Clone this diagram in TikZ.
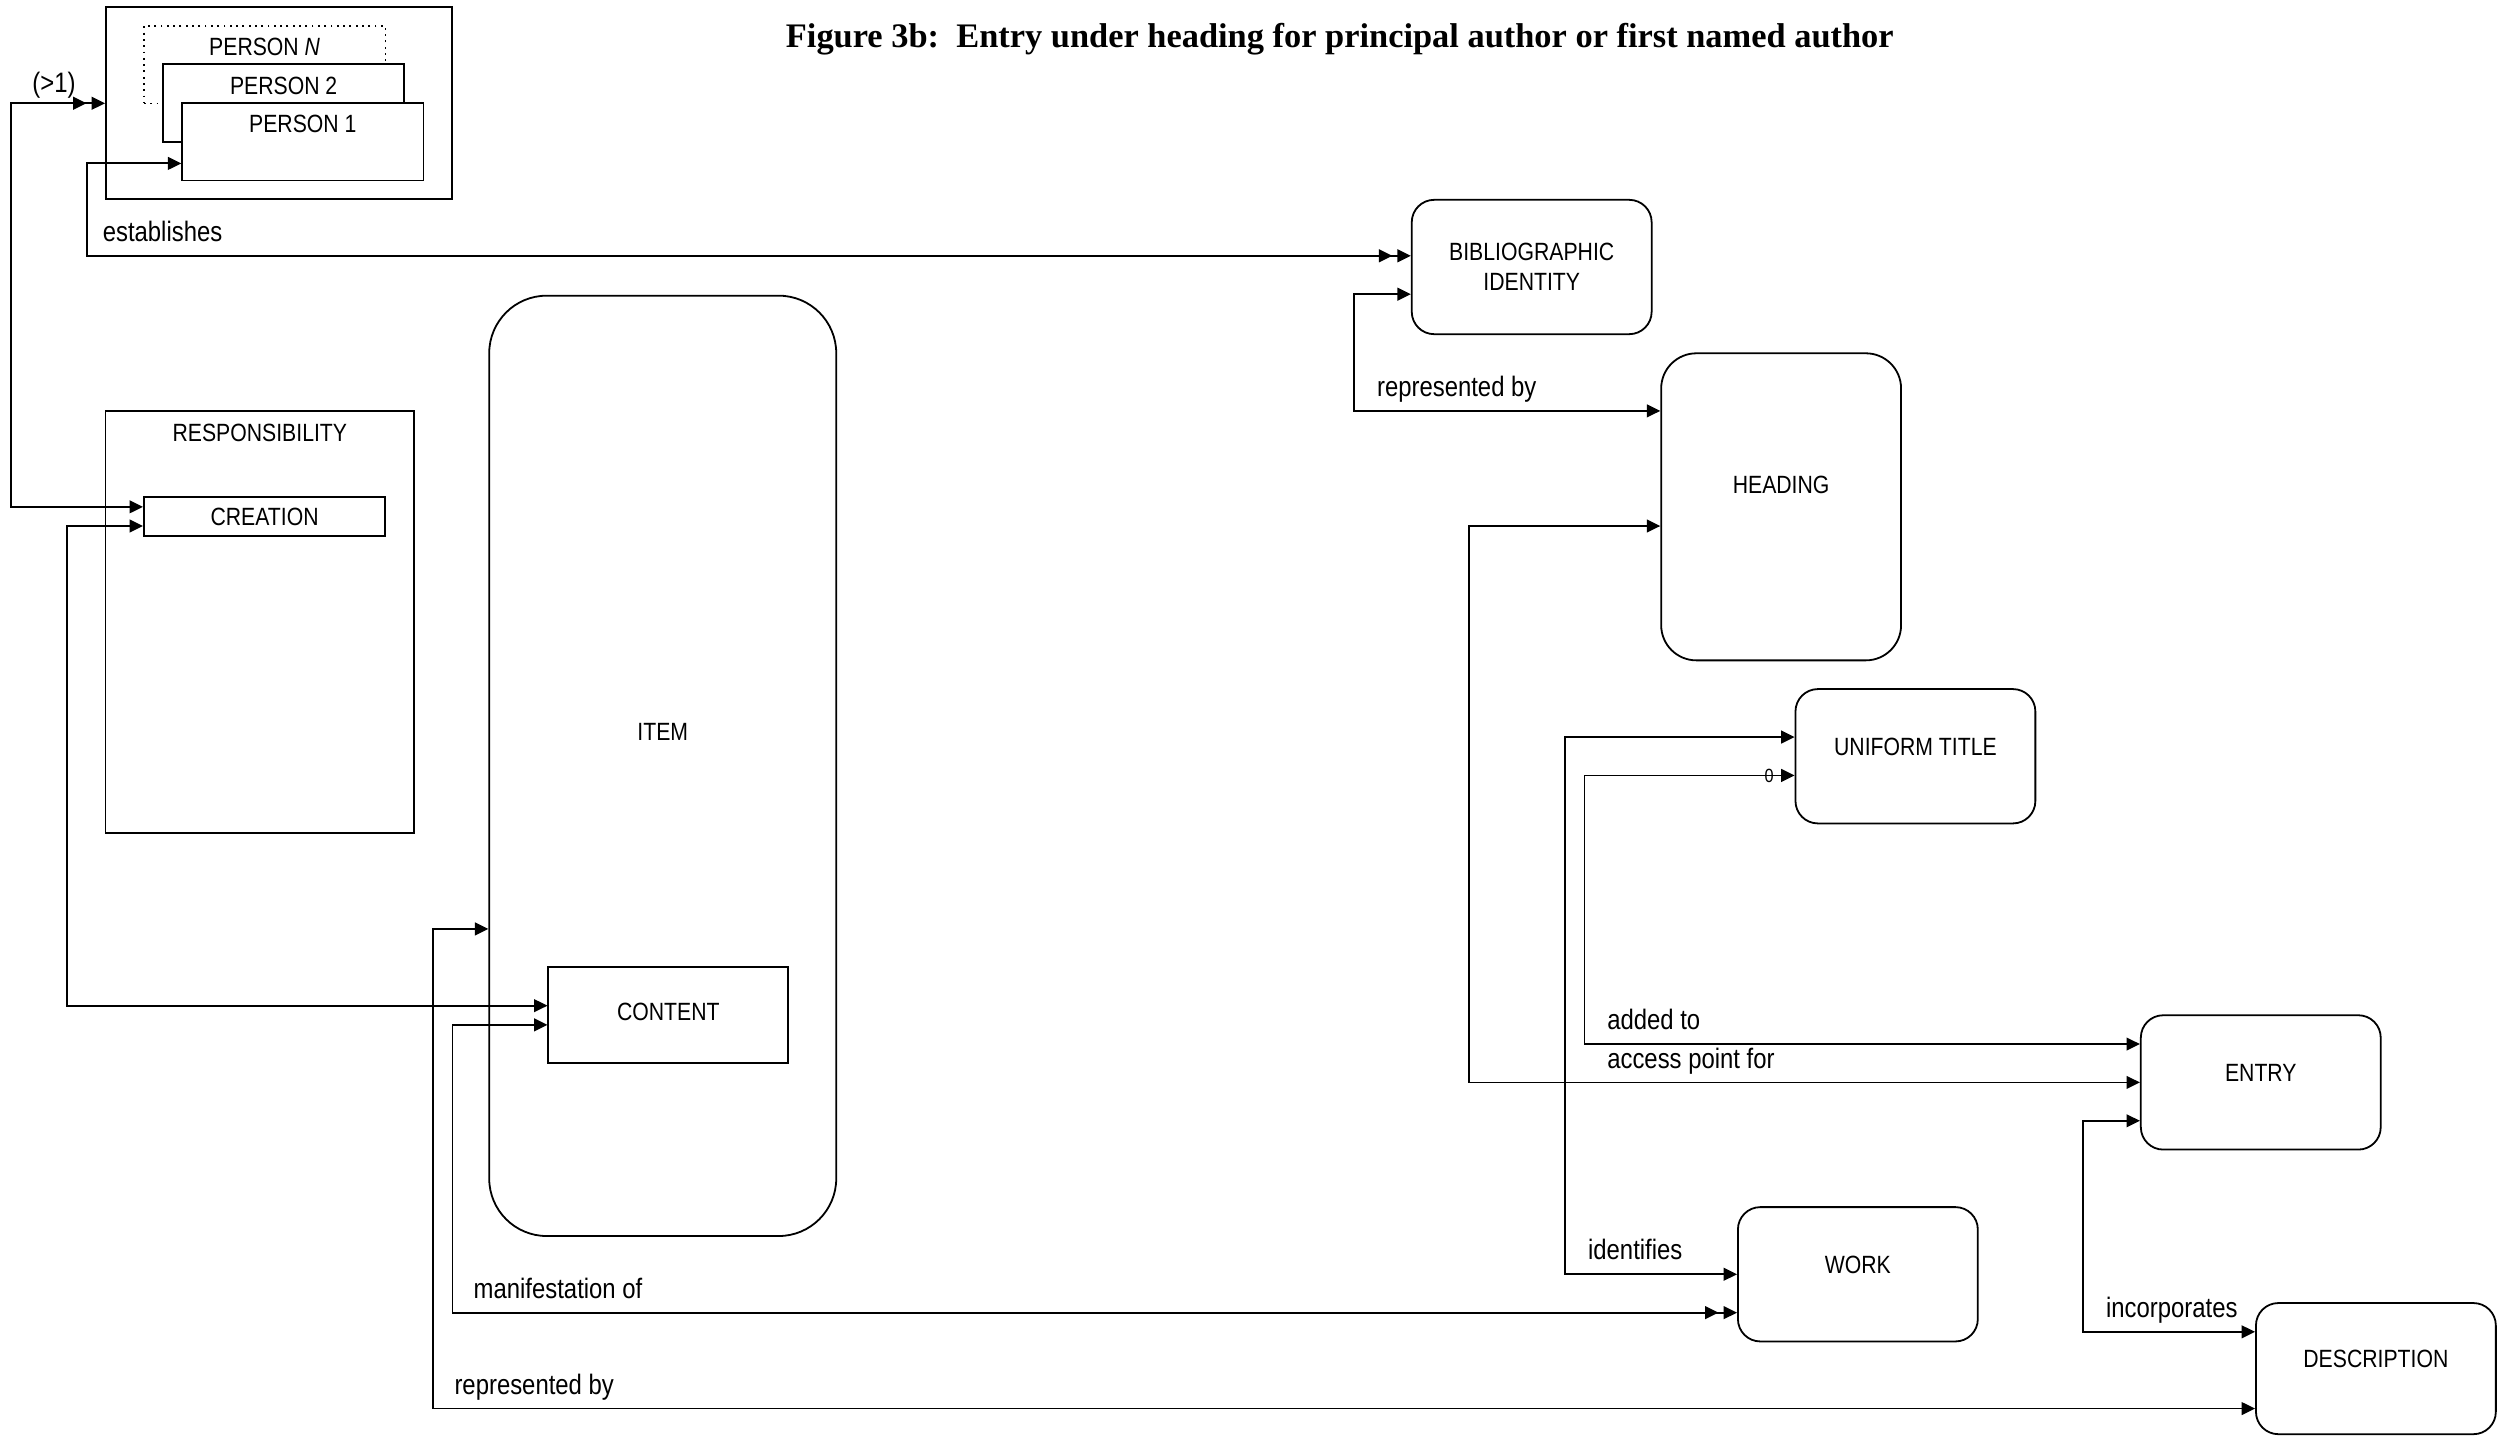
\documentclass[tikz,border=0pt]{standalone}
\usepackage{fontspec}
\setmainfont{Liberation Sans}[FakeStretch=0.85]
\newfontfamily\titlefont{Liberation Serif}
\usetikzlibrary{arrows.meta}
\newcommand\boxfont{\fontsize{11.1}{13.5}\selectfont}
\newcommand\labfont{\fontsize{12.5}{14}\selectfont}
\tikzset{
  >={Triangle[length=2.1mm,width=2mm]},
  box/.style={draw, line width=0.8pt, fill=white, inner sep=0pt, font=\boxfont, align=center},
  ent/.style={box, rounded corners=0.35cm, minimum width=3.75cm, minimum height=2.1cm, text depth=8.5pt},
  pbox/.style={box, minimum width=3.77cm, minimum height=1.21cm, text height=13.2pt, text depth=21.1pt},
  lab/.style={anchor=base west, inner sep=0pt, font=\labfont},
  link/.style={line width=0.8pt},
  dbl/.style={<-{Triangle[length=2.1mm,width=2mm,sep=0.8mm]Triangle[length=2.1mm,width=2mm]}},
}
\begin{document}
\begin{tikzpicture}[x=0.025cm,y=-0.025cm]
\path[use as bounding box, fill=white] (0,0) rectangle (1568,899);
% title
\node[anchor=base, font=\titlefont\bfseries\fontsize{15.3}{18}\selectfont] (title) at (838,30) {Figure 3b:\ \ Entry under heading for principal author or first named author};

% persons
\node[box, minimum width=5.41cm, minimum height=3cm] (persons) at (174.5,64.3) {};
\node[pbox, dotted, line width=0.6pt] (pn) at (165.5,40.4) {PERSON \textit{N}};
\node[pbox] (p2) at (177.4,64.4) {PERSON 2};
\node[pbox] (p1) at (189.4,88.7) {PERSON 1};

% responsibility
\node[box, minimum width=4.825cm, minimum height=6.6cm, text height=13.2pt, text depth=173.9pt] (resp) at (162.5,389) {RESPONSIBILITY};
\node[box, minimum width=3.775cm, minimum height=0.6cm] (creation) at (165.5,323) {CREATION};

% item
\node[box, rounded corners=0.9cm, minimum width=5.425cm, minimum height=14.7cm, text depth=30.4pt] (item) at (414.5,479) {ITEM};
\node[box, minimum width=3.75cm, minimum height=1.5cm, text depth=2.8pt] (content) at (418,635) {CONTENT};

% right side
\node[ent, text depth=0pt] (bib) at (958,167) {BIBLIOGRAPHIC\\IDENTITY};
\node[ent, rounded corners=0.55cm, minimum height=4.8cm, text depth=19.8pt] (heading) at (1114,317) {HEADING};
\node[ent] (ut) at (1198,473) {UNIFORM TITLE};
\node[ent] (entry) at (1414,677) {ENTRY};
\node[ent] (work) at (1162,797) {WORK};
\node[ent, minimum height=2.05cm] (desc) at (1486,856) {DESCRIPTION};

% links
\draw[link, dbl] (creation.west |- 0,317) -| (7,64.6) -- (persons.west |- 0,64.6);
\node[lab] (gt) at (20,58) {(>1)};
\draw[link, dbl] (p1.west |- 0,102.2) -| (54.6,160) -- (bib.west |- 0,160);
\node[lab] (estab) at (64,151) {establishes};
\draw[link, <->] (creation.west |- 0,329) -| (42,629) -- (content.west |- 0,629);
\draw[link, <->] (item.west |- 0,581) -| (271,881) -- (desc.west |- 0,881);
\node[lab] (repby) at (284,872) {represented by};
\draw[link, dbl] (content.west |- 0,641) -| (283,821) -- (work.west |- 0,821);
\node[lab] (manif) at (296,812) {manifestation of};
\draw[link, <->] (bib.west |- 0,184) -| (847,257) -- (heading.west |- 0,257);
\node[lab] (repby2) at (861,248) {represented by};
\draw[link, <->] (heading.west |- 0,329) -| (919,677) -- (entry.west |- 0,677);
\node[lab] (access) at (1005,668) {access point for};
\draw[link, <->] (ut.west |- 0,461) -| (979,797) -- (work.west |- 0,797);
\node[lab] (ident) at (993,788) {identifies};
\draw[link, <->] (ut.west |- 0,485) -| (991,653) -- (entry.west |- 0,653);
\node[lab] (added) at (1005,644) {added to};
\node[font=\fontsize{8.5}{9}\selectfont, inner sep=0pt] (zero) at (1106.5,485) {0};
\draw[link, <->] (entry.west |- 0,701) -| (1303,833) -- (desc.west |- 0,833);
\node[lab] (incorp) at (1317,824) {incorporates};
\end{tikzpicture}
\end{document}
